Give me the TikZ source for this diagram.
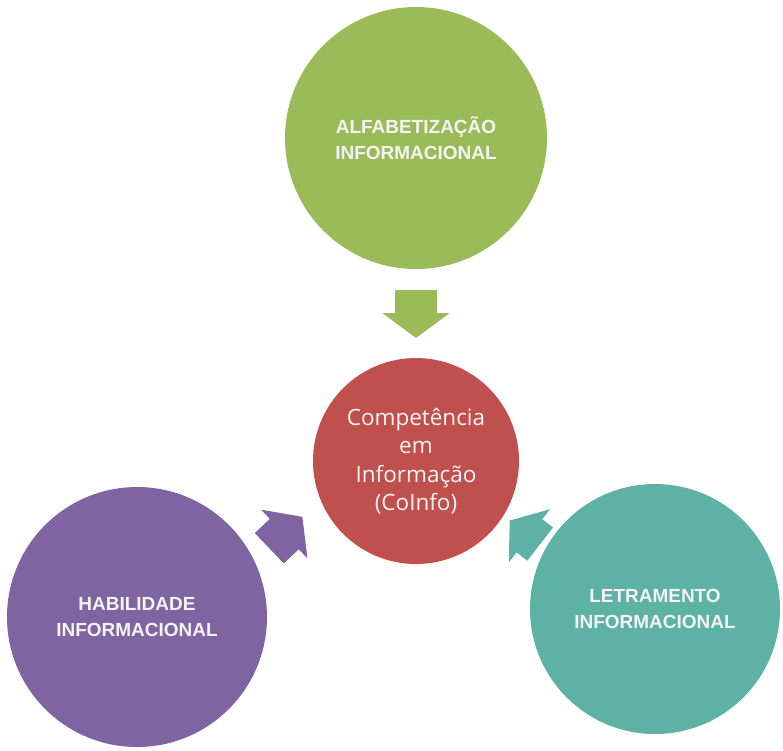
\documentclass[tikz,border=0pt]{standalone}
\usepackage{fontspec}
\setmainfont{Open Sans}
\newfontfamily\arialb{Liberation Sans}
\usepackage{tikz}
\usetikzlibrary{arrows.meta,calc,positioning,shapes}
\usepackage{color}
\definecolor{verde}{RGB}{155,187,89}
\definecolor{vermelho}{RGB}{192,80,77}
\definecolor{roxo}{RGB}{128,100,162}
\definecolor{turquesa}{RGB}{93,177,165}
\definecolor{quasebranco}{RGB}{244,244,244}

\begin{document}
\begin{tikzpicture}[node distance=3.23cm,semithick]
\tikzstyle{circulo}=[circle,draw=none,outer sep=0pt,inner sep=1pt,align=center,text=quasebranco,
font=\arialb\bfseries\fontsize{5.4}{7.4}\selectfont]
\tikzstyle{seta}=[-{Triangle[length=0.25cm,width=0.66cm]},line width=0.42cm]

\useasboundingbox (-4.16,-2.89) rectangle (3.67,4.61);

\node[circulo,fill=vermelho,minimum size=2.06cm,font=\fontsize{6.4}{8.1}\selectfont] (coinfo) at (0,0)
{Competência\\em\\Informação\\(CoInfo)};
\node[circulo,fill=verde,minimum size=2.62cm] (alfa) [above of=coinfo] {ALFABETIZAÇÃO\\INFORMACIONAL};
\node[circulo,fill=roxo,minimum size=2.60cm] (habil) [left of=coinfo,node distance=2.79cm,yshift=-1.56cm] {HABILIDADE\\INFORMACIONAL};
\node[circulo,fill=turquesa,minimum size=2.50cm] (letra) [right of=coinfo,node distance=2.39cm,yshift=-1.48cm] {LETRAMENTO\\INFORMACIONAL};

\path (alfa) edge [seta,draw=verde,shorten <=0.21cm,shorten >=0.2cm] (coinfo)
(habil.25) edge [seta,draw=roxo,shorten <=0.2cm,shorten >=0.25cm] (coinfo.202)
(letra.151) edge [seta,draw=turquesa,shorten <=0.07cm,shorten >=0.08cm] (coinfo.328);
\end{tikzpicture}
\end{document}
